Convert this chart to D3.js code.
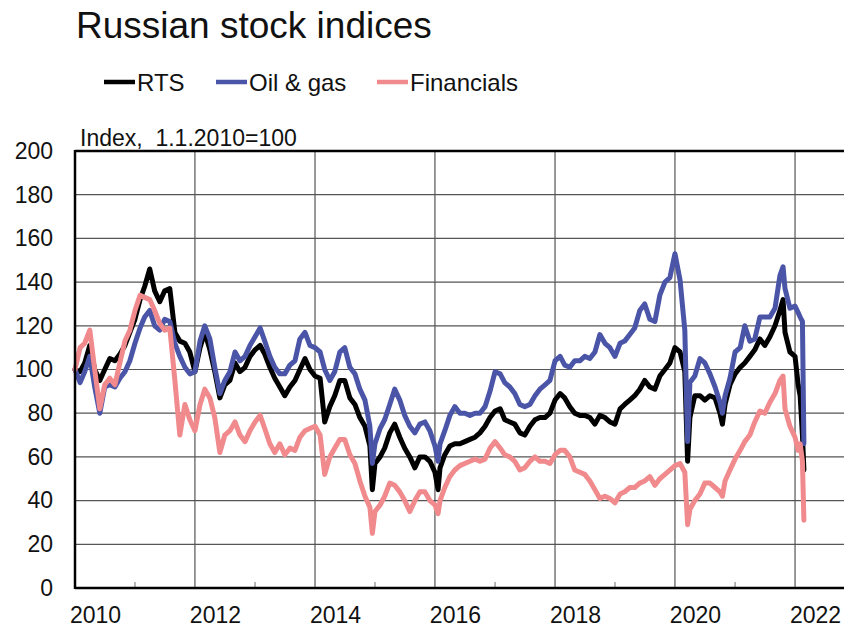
<!DOCTYPE html>
<html>
<head>
<meta charset="utf-8">
<script src="https://cdn.jsdelivr.net/npm/d3@7"></script>
<style>
  body { margin: 0; background: #fff; }
  svg { display: block; font-family: "Liberation Sans", Arial, sans-serif; }
</style>
</head>
<body>
<div id="chartDiv"></div>
<script>
// monthly values, 1st of each month, Jan 2010 .. Feb 2022
var seriesNames = ["RTS", "Oil & gas", "Financials"];
var seriesColors = ["#000000", "#4b55a8", "#f08a8d"];

var rts = [
  100, 99, 103, 111, 100, 95, 100, 105, 104, 107, 111, 117,
  123, 132, 138, 146, 136, 131, 136, 137, 117, 113, 112, 108,
  99, 110, 117, 109, 99, 87, 93, 95, 103, 99, 101, 106,
  109, 111, 107, 101, 96, 92, 88, 92, 95, 100, 105, 100,
  97, 96, 76, 83, 88, 95, 95, 87, 84, 78, 74, 65,
  57, 60, 64, 71, 75, 69, 64, 60, 55, 60, 60, 58,
  53, 55, 61, 65, 66, 66, 67, 68, 69, 71, 74, 78,
  81, 82, 77, 76, 75, 71, 70, 74, 77, 78, 78, 80,
  86, 89, 87, 83, 80, 79, 79, 78, 75, 79, 78, 76,
  75, 82, 84, 86, 88, 91, 95, 92, 91, 97, 100, 103,
  110, 108, 99, 78, 88, 88, 86, 88, 87, 80, 84, 93,
  98, 101, 103, 106, 109, 114, 111, 115, 120, 127, 117, 108,
  106, 88
];
var oilGas = [
  100, 94, 99, 106, 92, 80, 92, 93, 92, 96, 99, 104,
  112, 119, 124, 127, 120, 118, 123, 122, 112, 106, 101, 98,
  99, 113, 120, 114, 101, 89, 95, 99, 108, 104, 106, 111,
  115, 119, 113, 106, 101, 98, 98, 102, 104, 114, 117, 111,
  110, 108, 100, 95, 99, 108, 110, 101, 98, 91, 86, 74,
  66, 73, 77, 84, 91, 86, 79, 74, 71, 75, 76, 72,
  65, 66, 72, 79, 83, 80, 80, 79, 80, 80, 83, 90,
  99, 98, 94, 92, 89, 84, 83, 84, 88, 91, 93, 95,
  104, 106, 102, 101, 104, 104, 106, 105, 108, 116, 112, 110,
  106, 112, 113, 116, 119, 127, 130, 123, 122, 134, 140, 142,
  153, 141, 118, 94, 97, 105, 103, 98, 92, 85, 88, 96,
  108, 110, 120, 113, 114, 124, 124, 124, 128, 143, 137, 128,
  129, 124
];
var financials = [
  100, 110, 112, 118, 100, 82, 93, 96, 93, 103, 113, 118,
  127, 134, 133, 132, 127, 121, 118, 119, 95, 70, 84, 77,
  72, 84, 91, 87, 78, 62, 70, 72, 76, 70, 67, 72,
  76, 79, 73, 66, 62, 66, 61, 64, 63, 69, 72, 73,
  74, 70, 52, 60, 64, 68, 68, 61, 57, 49, 42, 37,
  35, 38, 42, 48, 47, 44, 40, 35, 40, 44, 44, 40,
  38, 40, 46, 51, 54, 56, 57, 58, 59, 58, 59, 64,
  67, 64, 61, 60, 58, 54, 55, 58, 60, 58, 58, 57,
  61, 63, 63, 60, 54, 53, 52, 49, 45, 41, 42, 41,
  39, 43, 44, 46, 46, 48, 49, 51, 47, 50, 52, 54,
  56, 57, 53, 36, 40, 43, 48, 48, 46, 44, 49, 54,
  59, 63, 67, 70, 76, 81, 80, 85, 89, 95, 82, 74,
  69, 66
];

// sharp moves between month starts
var eventDates = ["2014-12-16", "2016-01-20", "2020-03-18", "2020-10-16", "2021-10-20", "2022-01-20", "2022-02-15", "2022-02-24"];
var rtsEvents = [45, 45, 58, 75, 132, 93, 70, 54];
var oilGasEvents = [57, 58, 67, 80, 147, 126, 122, 66];
var financialsEvents = [25, 34, 29, 42, 97, 63, 58, 31];

var yTicks = [0, 20, 40, 60, 80, 100, 120, 140, 160, 180, 200];
var xYears = [2010, 2012, 2014, 2016, 2018, 2020, 2022];
var minorYears = [2011, 2013, 2015, 2017, 2019, 2021];

var parseDay = d3.timeParse("%Y-%m-%d");
var months = d3.timeMonth.range(new Date(2010, 0, 1), new Date(2022, 2, 1));

function buildSeries(monthly, events) {
  var pts = months.map(function(m, i) { return {date: m, value: monthly[i]}; });
  eventDates.forEach(function(d, i) { pts.push({date: parseDay(d), value: events[i]}); });
  pts.sort(function(a, b) { return a.date - b.date; });
  return pts;
}

var allSeries = [
  buildSeries(rts, rtsEvents),
  buildSeries(oilGas, oilGasEvents),
  buildSeries(financials, financialsEvents)
];

var width = 844, height = 629;
var margin = {top: 151, left: 75, bottom: 41};

var svg = d3.select("#chartDiv").append("svg")
    .attr("width", width)
    .attr("height", height);

var x = d3.scaleTime()
    .domain([new Date(2010, 0, 1), new Date(2023, 0, 1)])
    .range([margin.left, margin.left + 780]);

var y = d3.scaleLinear()
    .domain([0, 200])
    .range([height - margin.bottom, margin.top]);

// title + legend
svg.append("text")
    .text("Russian stock indices")
    .attr("x", 76).attr("y", 38)
    .style("font-size", "37px")
    .style("fill", "#111");

var legendX = [104, 216, 377];
var legend = svg.append("g").attr("class", "legend");
seriesNames.forEach(function(name, i) {
  legend.append("line")
      .attr("x1", legendX[i]).attr("x2", legendX[i] + 31)
      .attr("y1", 82).attr("y2", 82)
      .style("stroke", seriesColors[i])
      .style("stroke-width", 4.5);
  legend.append("text")
      .text(name)
      .attr("x", legendX[i] + 33).attr("y", 90.5)
      .style("font-size", "24px")
      .style("fill", "#111");
});

svg.append("text")
    .text("Index,  1.1.2010=100")
    .attr("x", 80).attr("y", 146)
    .style("font-size", "23px")
    .style("fill", "#111")
    .attr("xml:space", "preserve");

// grid
var grid = svg.append("g").attr("class", "grid");
grid.selectAll(".hgrid").data(yTicks.slice(1, -1)).enter()
  .append("line").attr("class", "hgrid")
    .attr("x1", margin.left).attr("x2", width)
    .attr("y1", function(d) { return y(d); })
    .attr("y2", function(d) { return y(d); })
    .style("stroke", "#555")
    .style("stroke-width", 1.2);

grid.selectAll(".vgrid").data(xYears.slice(1)).enter()
  .append("line").attr("class", "vgrid")
    .attr("x1", function(d) { return x(new Date(d, 0, 1)); })
    .attr("x2", function(d) { return x(new Date(d, 0, 1)); })
    .attr("y1", y(200)).attr("y2", y(0))
    .style("stroke", "#555")
    .style("stroke-width", 1.2);

grid.selectAll(".minor").data(minorYears).enter()
  .append("line").attr("class", "minor")
    .attr("x1", function(d) { return x(new Date(d, 0, 1)); })
    .attr("x2", function(d) { return x(new Date(d, 0, 1)); })
    .attr("y1", y(0) - 6).attr("y2", y(0))
    .style("stroke", "#888")
    .style("stroke-width", 1.2);

// lines
var line = d3.line()
    .x(function(d) { return x(d.date); })
    .y(function(d) { return y(d.value); });

var lines = svg.append("g").attr("class", "lines");
allSeries.forEach(function(s, i) {
  lines.append("path")
      .datum(s)
      .attr("d", line)
      .style("fill", "none")
      .style("stroke", seriesColors[i])
      .style("stroke-width", 5)
      .style("stroke-linejoin", "round")
      .style("stroke-linecap", "round");
});

// frame
var frame = svg.append("g").attr("class", "frame");
frame.append("line")
    .attr("x1", margin.left).attr("x2", width)
    .attr("y1", y(200)).attr("y2", y(200))
    .style("stroke", "#000").style("stroke-width", 2.5);
frame.append("line")
    .attr("x1", margin.left).attr("x2", width)
    .attr("y1", y(0)).attr("y2", y(0))
    .style("stroke", "#000").style("stroke-width", 2.5);
frame.append("line")
    .attr("x1", margin.left).attr("x2", margin.left)
    .attr("y1", y(200) - 1).attr("y2", y(0) + 1)
    .style("stroke", "#000").style("stroke-width", 2.5);

// axes (labels only)
var yAxis = svg.append("g")
    .attr("transform", "translate(" + margin.left + ",0)")
    .call(d3.axisLeft(y).tickValues(yTicks).tickSize(0).tickPadding(22));
yAxis.select(".domain").remove();
yAxis.selectAll("text")
    .style("font-size", "23px")
    .style("fill", "#111")
    .style("font-family", "Liberation Sans, Arial, sans-serif");

var xAxis = svg.append("g")
    .attr("transform", "translate(20," + y(0) + ")")
    .call(d3.axisBottom(x)
        .tickValues(xYears.map(function(d) { return new Date(d, 0, 1); }))
        .tickFormat(d3.timeFormat("%Y"))
        .tickSize(0).tickPadding(19));
xAxis.select(".domain").remove();
xAxis.selectAll("text")
    .style("font-size", "23px")
    .style("fill", "#111")
    .style("font-family", "Liberation Sans, Arial, sans-serif");
</script>
</body>
</html>
